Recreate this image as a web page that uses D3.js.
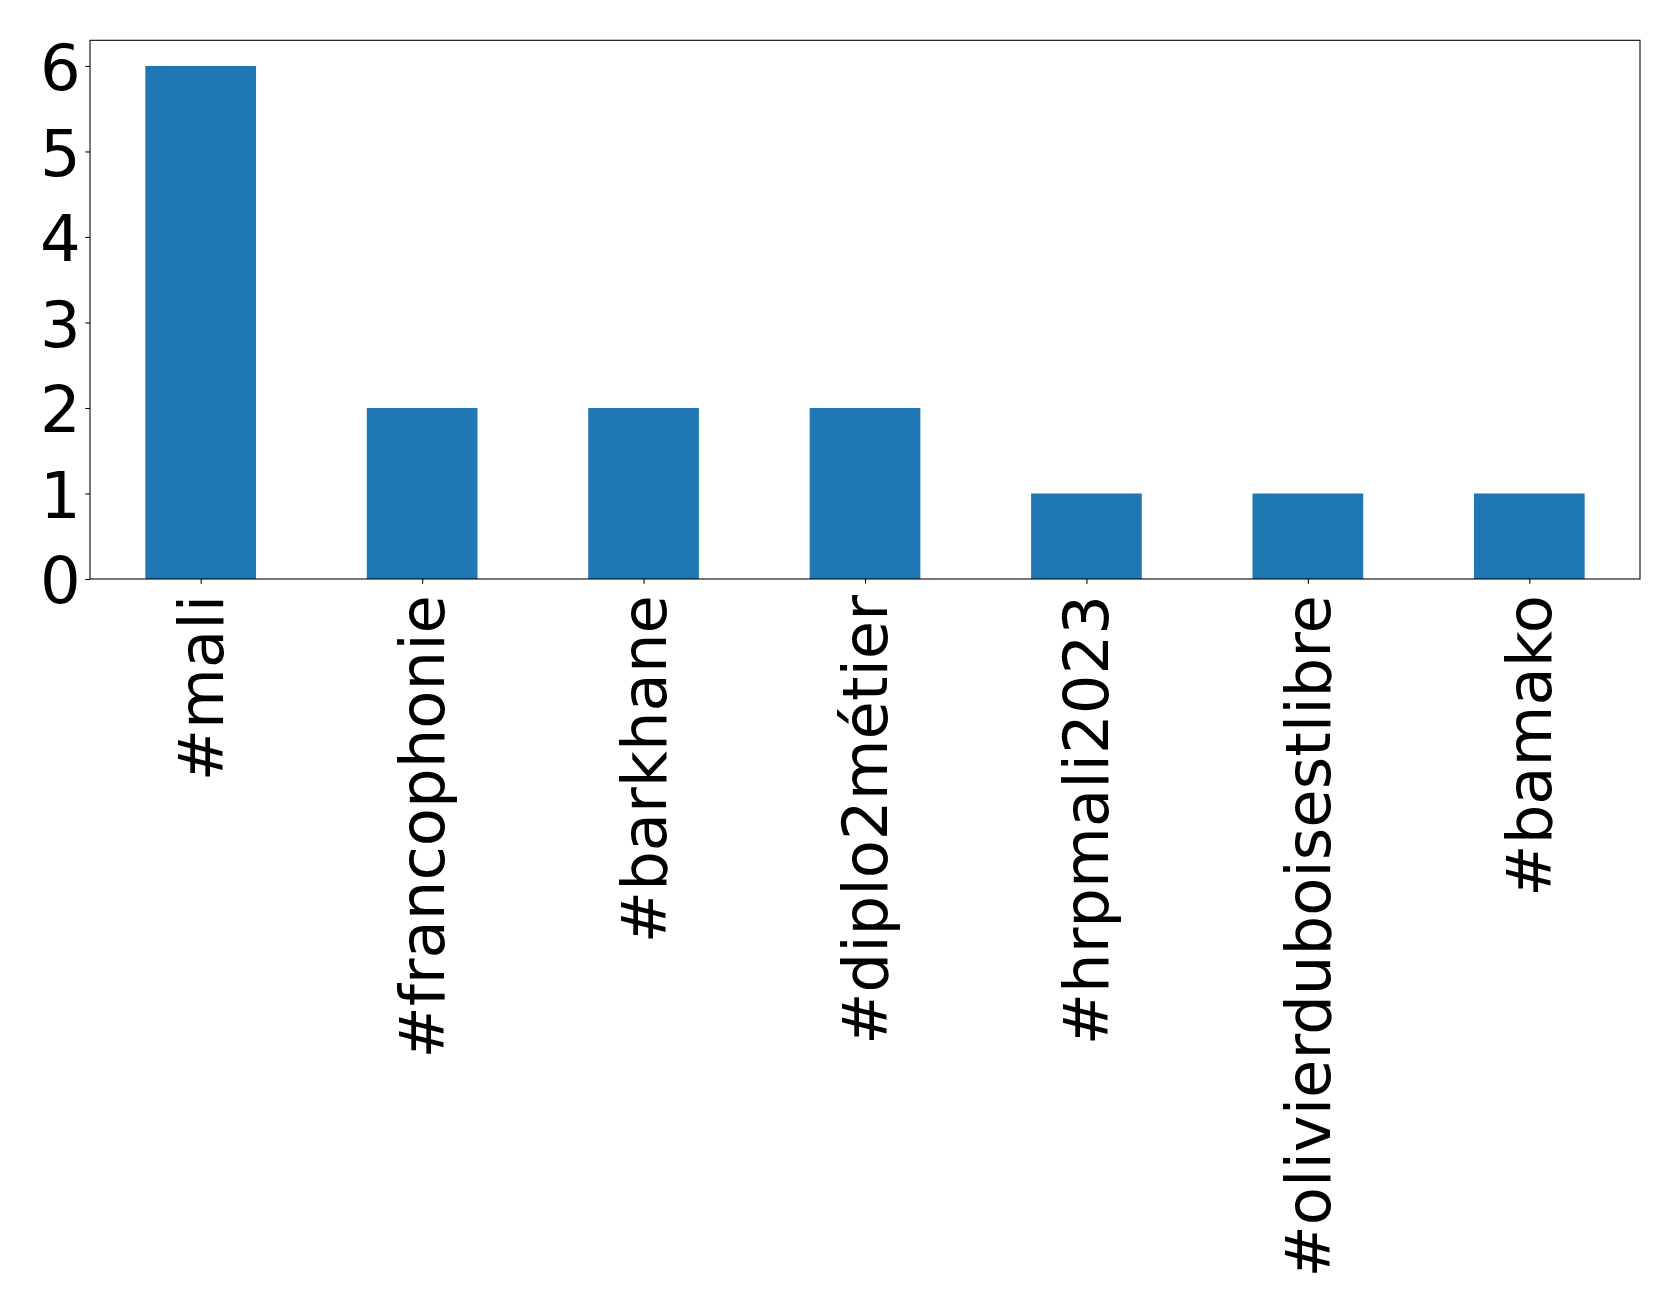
<!DOCTYPE html>
<html><head><meta charset="utf-8">
<script src="https://cdn.jsdelivr.net/npm/d3@7"></script>
<style>body{margin:0;background:#fff}svg{display:block}</style>
</head><body>
<script>
const categories = ["#mali","#francophonie","#barkhane","#diplo2métier","#hrpmali2023","#olivierduboisestlibre","#bamako"];
const values = [6,2,2,2,1,1,1];
const yTicks = [0,1,2,3,4,5,6];

const W = 1679, H = 1311;
const m = {left:90, top:40.3, right:1640, bottom:579};
const svg = d3.select("body").append("svg").attr("width",W).attr("height",H);
const x = d3.scaleLinear().domain([-0.5, categories.length-0.5]).range([m.left, m.right]);
const y = d3.scaleLinear().domain([0, 6.3]).range([m.bottom, m.top]);
const font = "DejaVu Sans";

svg.append("g").selectAll("rect").data(values).join("rect")
  .attr("x",(d,i)=>x(i-0.25)).attr("width",(d,i)=>x(i+0.25)-x(i-0.25))
  .attr("y",d=>y(d)).attr("height",d=>y(0)-y(d)).attr("fill","#1f77b4");

// frame
svg.append("rect").attr("x",m.left).attr("y",m.top).attr("width",m.right-m.left).attr("height",m.bottom-m.top)
  .attr("fill","none").attr("stroke","#000").attr("stroke-width",1.07);

// y axis
const yAxis = d3.axisLeft(y).tickValues(yTicks).tickSize(4.67).tickPadding(4.67).tickFormat(d3.format("d"));
const ga = svg.append("g").attr("transform",`translate(${m.left},0)`).call(yAxis);
ga.select(".domain").remove();
ga.selectAll("line").attr("stroke","#000").attr("stroke-width",1.07);
ga.selectAll("text").attr("font-family",font).attr("font-size",64).attr("fill","#000").attr("dy","0.37em");

// x axis
const xAxis = d3.axisBottom(x).tickValues(d3.range(categories.length)).tickSize(4.67).tickPadding(0).tickFormat(i=>categories[i]);
const gx = svg.append("g").attr("transform",`translate(0,${m.bottom})`).call(xAxis);
gx.select(".domain").remove();
gx.selectAll("line").attr("stroke","#000").attr("stroke-width",1.07);
gx.selectAll("text").attr("font-family",font).attr("font-size",62.5).attr("fill","#000")
  .attr("text-anchor","end").attr("dy",null).attr("y",null)
  .attr("transform","translate(21.5,16) rotate(-90)");
</script>
</body></html>
